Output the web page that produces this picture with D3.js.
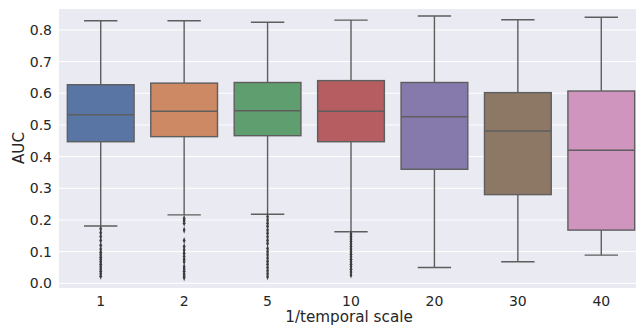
<!DOCTYPE html>
<html>
<head>
<meta charset="utf-8">
<script src="https://cdn.jsdelivr.net/npm/d3@7"></script>
<style>
  body { margin: 0; background: #fff; }
  svg { display: block; font-family: "DejaVu Sans", sans-serif; }
</style>
</head>
<body>
<script>
// categories and box statistics
var categories = ["1", "2", "5", "10", "20", "30", "40"];
var whiskerLow  = [0.181, 0.216, 0.218, 0.163, 0.050, 0.068, 0.089];
var q1          = [0.447, 0.463, 0.466, 0.447, 0.360, 0.280, 0.168];
var medians     = [0.532, 0.543, 0.545, 0.543, 0.526, 0.481, 0.420];
var q3          = [0.627, 0.632, 0.634, 0.640, 0.634, 0.602, 0.607];
var whiskerHigh = [0.829, 0.829, 0.824, 0.831, 0.844, 0.832, 0.840];
var outliers = [
  [0.172, 0.160, 0.148, 0.135, 0.120, 0.108, 0.098, 0.090, 0.082, 0.075, 0.068, 0.060, 0.052, 0.045, 0.038, 0.030, 0.022],
  [0.205, 0.198, 0.190, 0.168, 0.135, 0.116, 0.105, 0.095, 0.085, 0.075, 0.068, 0.052, 0.045, 0.038, 0.030, 0.024, 0.018],
  [0.210, 0.200, 0.190, 0.180, 0.168, 0.158, 0.147, 0.136, 0.126, 0.110, 0.100, 0.090, 0.080, 0.070, 0.060, 0.050, 0.040, 0.030, 0.021],
  [0.156, 0.148, 0.140, 0.132, 0.124, 0.116, 0.108, 0.100, 0.092, 0.084, 0.076, 0.068, 0.060, 0.052, 0.044, 0.036, 0.026]
];
var colors = ["#5875a4", "#cc8963", "#5f9e6e", "#b55d60", "#857aab", "#8d7866", "#d095bf"];
var yTicks = [0.0, 0.1, 0.2, 0.3, 0.4, 0.5, 0.6, 0.7, 0.8];

var width = 636;
var height = 329;
var margin = { top: 9, left: 59, right: -7, bottom: 41 };

var svg = d3.select("body")
    .append("svg")
    .attr("width", width)
    .attr("height", height);

var xScale = d3.scaleBand()
    .domain(categories)
    .range([margin.left, width - margin.right]);

var yScale = d3.scaleLinear()
    .domain([-0.0148, 0.866])
    .range([height - margin.bottom, margin.top]);

// background
svg.append("rect")
    .attr("x", margin.left)
    .attr("y", margin.top)
    .attr("width", width - margin.right - margin.left)
    .attr("height", height - margin.bottom - margin.top)
    .attr("fill", "#eaeaf2");

// horizontal grid
svg.append("g")
    .selectAll("line")
    .data(yTicks)
    .join("line")
    .attr("x1", margin.left)
    .attr("x2", width - margin.right)
    .attr("y1", d => yScale(d))
    .attr("y2", d => yScale(d))
    .attr("stroke", "#fff")
    .attr("stroke-width", 1);

// axes (no domain line, no tick marks, just labels)
var yAxis = svg.append("g")
    .attr("transform", `translate(${margin.left},0)`)
    .call(d3.axisLeft(yScale).tickValues(yTicks).tickFormat(d3.format(".1f")).tickSize(0).tickPadding(7));
var xAxis = svg.append("g")
    .attr("transform", `translate(0,${height - margin.bottom})`)
    .call(d3.axisBottom(xScale).tickSize(0).tickPadding(8));
svg.selectAll(".domain").remove();
svg.selectAll(".tick text")
    .style("font-family", "'DejaVu Sans'")
    .style("font-size", "14px")
    .attr("fill", "#262626");

var lineColor = "#5e5e5e";
var boxW = xScale.bandwidth() * 0.8;

var boxes = svg.append("g")
    .selectAll("g")
    .data(categories)
    .join("g");

boxes.each(function(c, i) {
    var g = d3.select(this);
    var cx = xScale(c) + xScale.bandwidth() / 2;
    // whiskers
    g.append("line")
        .attr("x1", cx).attr("x2", cx)
        .attr("y1", yScale(whiskerHigh[i])).attr("y2", yScale(q3[i]))
        .attr("stroke", lineColor).attr("stroke-width", 1.4);
    g.append("line")
        .attr("x1", cx).attr("x2", cx)
        .attr("y1", yScale(q1[i])).attr("y2", yScale(whiskerLow[i]))
        .attr("stroke", lineColor).attr("stroke-width", 1.4);
    // caps
    [whiskerHigh[i], whiskerLow[i]].forEach(function(v) {
        g.append("line")
            .attr("x1", cx - boxW / 4).attr("x2", cx + boxW / 4)
            .attr("y1", yScale(v)).attr("y2", yScale(v))
            .attr("stroke", lineColor).attr("stroke-width", 1.4);
    });
    // box
    g.append("rect")
        .attr("x", cx - boxW / 2)
        .attr("y", yScale(q3[i]))
        .attr("width", boxW)
        .attr("height", yScale(q1[i]) - yScale(q3[i]))
        .attr("fill", colors[i])
        .attr("stroke", lineColor)
        .attr("stroke-width", 1.4);
    // median
    g.append("line")
        .attr("x1", cx - boxW / 2).attr("x2", cx + boxW / 2)
        .attr("y1", yScale(medians[i])).attr("y2", yScale(medians[i]))
        .attr("stroke", lineColor).attr("stroke-width", 1.4);
    // fliers
    var fl = outliers[i] || [];
    g.selectAll("path.flier")
        .data(fl)
        .join("path")
        .attr("class", "flier")
        .attr("d", d3.symbol().type(d3.symbolDiamond).size(10))
        .attr("transform", d => `translate(${cx},${yScale(d)}) scale(0.8,1.2)`)
        .attr("fill", "#3d3d3d");
});

// labels
svg.append("text")
    .attr("transform", "rotate(-90)")
    .attr("x", -148)
    .attr("y", 23.5)
    .attr("text-anchor", "middle")
    .style("font-size", "15.2px")
    .attr("fill", "#262626")
    .text("AUC");

svg.append("text")
    .attr("x", 349)
    .attr("y", 322)
    .attr("text-anchor", "middle")
    .style("font-size", "15.2px")
    .attr("fill", "#262626")
    .text("1/temporal scale");
</script>
</body>
</html>
